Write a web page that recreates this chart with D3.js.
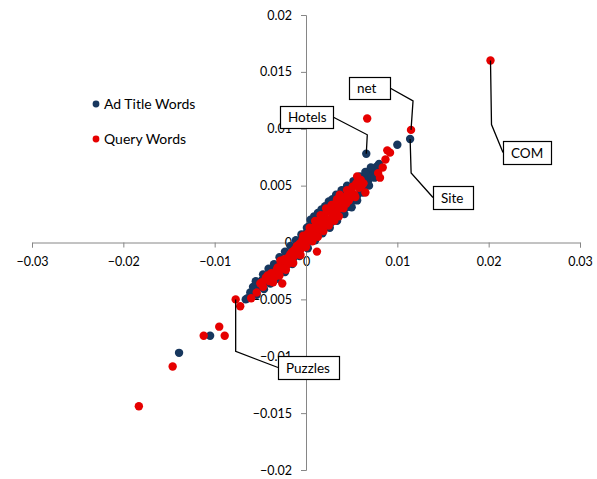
<!DOCTYPE html>
<html>
<head>
<meta charset="utf-8">
<script src="https://cdn.jsdelivr.net/npm/d3@7"></script>
<style>
  body { margin: 0; background: #fff; }
  svg text { font-family: Lato, "Liberation Sans", sans-serif; fill: #000; }
  .axis path, .axis line { stroke: #868686; }
</style>
</head>
<body>
<div id="chart"></div>
<script>

var width = 597, height = 479;

var xTicks = [-0.03, -0.02, -0.01, 0, 0.01, 0.02, 0.03];
var yTicks = [-0.02, -0.015, -0.01, -0.005, 0, 0.005, 0.01, 0.015, 0.02];

var seriesNames = ['Ad Title Words', 'Query Words'];
var seriesColors = ['#17375e', '#e60000'];

// [x, y]
var adTitleWords = [
  [-0.0139,-0.0097],[-0.0105,-0.0082],[-0.0066,-0.0050],[-0.0064,-0.0049],[-0.0061,-0.0044],
  [-0.0058,-0.0039],[-0.0056,-0.0041],[-0.0052,-0.0036],[-0.0050,-0.0039],[-0.0048,-0.0033],
  [-0.0046,-0.0036],[-0.0044,-0.0030],[-0.0042,-0.0034],[-0.0040,-0.0028],[-0.0038,-0.0031],
  [-0.0036,-0.0025],[-0.0034,-0.0029],[-0.0032,-0.0022],[-0.0030,-0.0027],[-0.0028,-0.0019],
  [-0.0026,-0.0024],[-0.0024,-0.0016],[-0.0022,-0.0021],[-0.0020,-0.0012],[-0.0018,-0.0017],
  [-0.0016,-0.0009],[-0.0014,-0.0014],[-0.0012,-0.0005],[-0.0010,-0.0010],[-0.0008,-0.0001],
  [-0.0006,-0.0006],[-0.0004,0.0003],[-0.0002,-0.0002],[0.0000,0.0008],[0.0001,0.0001],
  [0.0003,0.0014],[0.0004,0.0004],[0.0006,0.0018],[0.0008,0.0006],[0.0010,0.0020],
  [0.0012,0.0008],[0.0014,0.0023],[0.0016,0.0010],[0.0018,0.0026],[0.0020,0.0013],
  [0.0022,0.0029],[0.0024,0.0015],[0.0026,0.0034],[0.0028,0.0018],[0.0030,0.0035],
  [0.0032,0.0021],[0.0034,0.0039],[0.0036,0.0025],[0.0038,0.0042],[0.0040,0.0028],
  [0.0042,0.0046],[0.0044,0.0031],[0.0046,0.0048],[0.0048,0.0034],[0.0050,0.0049],
  [0.0051,0.0037],[0.0054,0.0052],[0.0056,0.0041],[0.0058,0.0054],[0.0060,0.0045],
  [0.0062,0.0057],[0.0064,0.0049],[0.0066,0.0060],[0.0068,0.0054],[0.0070,0.0063],
  [0.0072,0.0058],[0.0074,0.0065],[0.0076,0.0062],[0.0078,0.0067],[0.0080,0.0069],
  [-0.0055,-0.0034],[-0.0047,-0.0028],[-0.0041,-0.0023],[-0.0035,-0.0019],[-0.0029,-0.0013],
  [-0.0023,-0.0008],[-0.0017,-0.0003],[-0.0011,0.0002],[-0.0005,0.0007],[0.0001,0.0013],
  [0.0005,0.0020],[0.0009,0.0023],[0.0013,0.0026],[0.0017,0.0029],[0.0021,0.0032],
  [0.0025,0.0036],[0.0029,0.0038],[0.0033,0.0042],[0.0039,0.0046],[0.0045,0.0050],
  [0.0052,0.0054],[0.0059,0.0058],[0.0065,0.0062],[0.0071,0.0066],
  [-0.0054,-0.0046],[-0.0046,-0.0041],[-0.0039,-0.0036],[-0.0031,-0.0032],[-0.0023,-0.0026],
  [-0.0015,-0.0019],[-0.0007,-0.0012],[0.0002,-0.0005],[0.0010,0.0002],[0.0018,0.0008],
  [0.0026,0.0013],[0.0034,0.0019],[0.0042,0.0025],[0.0050,0.0031],[0.0056,0.0037],
  [0.0062,0.0044],[0.0069,0.0050],[0.0075,0.0057],
  [0.0066,0.0078],[0.0100,0.0086],[0.0114,0.0091]
];

var queryWords = [
  [-0.0183,-0.0144],[-0.0146,-0.0109],[-0.0112,-0.0082],[-0.0089,-0.0082],[-0.0095,-0.0074],
  [-0.0077,-0.0050],[-0.0072,-0.0056],[-0.0060,-0.0049],[-0.0054,-0.0044],[-0.0050,-0.0036],
  [-0.0047,-0.0039],[-0.0044,-0.0031],[-0.0040,-0.0034],[-0.0036,-0.0035],[-0.0026,-0.0036],
  [-0.0038,-0.0027],[-0.0034,-0.0030],[-0.0032,-0.0024],[-0.0030,-0.0026],[-0.0028,-0.0016],
  [-0.0027,-0.0021],[-0.0025,-0.0023],[-0.0023,-0.0018],[-0.0021,-0.0014],[-0.0020,-0.0019],
  [-0.0018,-0.0012],[-0.0016,-0.0015],[-0.0015,-0.0008],[-0.0013,-0.0012],[-0.0012,-0.0006],
  [-0.0010,-0.0003],[-0.0009,-0.0008],[-0.0007,-0.0001],[-0.0005,-0.0005],[-0.0004,0.0002],
  [-0.0002,-0.0002],[-0.0001,0.0005],[0.0001,0.0001],[0.0002,0.0008],[0.0003,0.0003],
  [0.0005,0.0011],[0.0006,0.0005],[0.0008,0.0013],[0.0009,0.0008],[0.0011,0.0016],
  [0.0012,-0.0008],[0.0012,0.0011],[0.0014,0.0019],[0.0015,0.0012],[0.0017,0.0022],
  [0.0018,0.0014],[0.0020,0.0024],[0.0021,0.0017],[0.0023,0.0027],[0.0024,0.0019],
  [0.0026,0.0029],[0.0027,0.0021],[0.0029,0.0031],[0.0030,0.0024],[0.0032,0.0034],
  [0.0033,0.0027],[0.0035,0.0035],[0.0037,0.0042],[0.0037,0.0030],[0.0040,0.0036],
  [0.0042,0.0039],[0.0044,0.0034],[0.0046,0.0043],[0.0048,0.0040],[0.0050,0.0045],
  [0.0053,0.0042],[0.0056,0.0058],[0.0055,0.0052],[0.0058,0.0048],[0.0060,0.0055],
  [0.0065,0.0044],[0.0063,0.0052],[0.0067,0.0109],[0.0079,0.0061],[0.0081,0.0057],
  [0.0084,0.0066],[0.0087,0.0073],[0.0089,0.0081],[0.0092,0.0079],[0.0115,0.0099],
  [-0.0048,-0.0035],[-0.0042,-0.0029],[-0.0037,-0.0032],[-0.0031,-0.0022],[-0.0029,-0.0029],
  [-0.0024,-0.0015],[-0.0022,-0.0024],[-0.0017,-0.0010],[-0.0014,-0.0018],[-0.0008,-0.0005],
  [-0.0006,-0.0011],[-0.0003,0.0006],[0.0000,-0.0004],[0.0004,0.0013],[0.0007,0.0001],
  [0.0010,0.0019],[0.0013,0.0005],[0.0016,0.0024],[0.0019,0.0010],[0.0022,0.0030],
  [0.0025,0.0015],[0.0028,0.0033],[0.0031,0.0019],[0.0034,0.0038],[0.0036,0.0023],
  [0.0039,0.0040],[0.0041,0.0030],[0.0045,0.0046],[0.0047,0.0037],[0.0051,0.0049],
  [0.0054,0.0040],[0.0057,0.0054],[0.0061,0.0050],
  [0.0202,0.0160]
];

// callouts: point they point at, elbow offset from the point, box (left, top, w, h) in px
var callouts = [
  { label: 'net',     pt: [0.0115, 0.0099],   elbow: [2, -29],  box: [349, 77, 41, 22],  side: 'right' },
  { label: 'Hotels',  pt: [0.0066, 0.0078],   elbow: [1, -19],  box: [280, 106, 53, 22], side: 'right' },
  { label: 'Site',    pt: [0.0114, 0.0091],   elbow: [1, 34],   box: [433, 186, 40, 23], side: 'left' },
  { label: 'COM',     pt: [0.0202, 0.0160],   elbow: [1, 64],   box: [503, 141, 48, 23], side: 'left' },
  { label: 'Puzzles', pt: [-0.0077, -0.0050], elbow: [0, 52],   box: [278, 356, 61, 23], side: 'left' }
];

var x = d3.scaleLinear().domain([-0.03, 0.03]).range([32, 580]);
var y = d3.scaleLinear().domain([-0.02, 0.02]).range([470, 15]);

var svg = d3.select('#chart')
  .append('svg')
  .attr('width', width)
  .attr('height', height);

var fmt = function(d) { return d === 0 ? '0' : d3.format('')(+d.toFixed(3)); };

// x axis along y = 0
var xAxis = svg.append('g')
  .attr('class', 'axis')
  .attr('transform', 'translate(0,' + y(0) + ')')
  .call(d3.axisBottom(x).tickValues(xTicks).tickSize(5).tickPadding(10).tickFormat(fmt));

// y axis along x = 0
var yAxis = svg.append('g')
  .attr('class', 'axis')
  .attr('transform', 'translate(' + x(0) + ',0)')
  .call(d3.axisLeft(y).tickValues(yTicks).tickSize(5).tickPadding(9).tickFormat(fmt));

svg.selectAll('.axis .domain').attr('stroke', '#868686');
xAxis.selectAll('text').attr('font-size', 12.5).attr('fill', '#000');
yAxis.selectAll('text').attr('font-size', 12.5).attr('fill', '#000');

// points: blue first, red on top
var series = [adTitleWords, queryWords];
series.forEach(function(pts, i) {
  svg.append('g')
    .selectAll('circle')
    .data(pts)
    .enter().append('circle')
    .attr('cx', function(d) { return x(d[0]); })
    .attr('cy', function(d) { return y(d[1]); })
    .attr('r', 4.2)
    .attr('fill', seriesColors[i]);
});

// callouts
var co = svg.append('g');
callouts.forEach(function(c) {
  var px = x(c.pt[0]), py = y(c.pt[1]);
  var ex = px + c.elbow[0], ey = py + c.elbow[1];
  var b = c.box;
  var bx = c.side === 'right' ? b[0] + b[2] : b[0];
  var by = b[1] + b[3] / 2;
  co.append('path')
    .attr('d', 'M' + px + ',' + py + 'L' + ex + ',' + ey + 'L' + bx + ',' + by)
    .attr('fill', 'none')
    .attr('stroke', '#000')
    .attr('stroke-width', 1.3);
  co.append('rect')
    .attr('x', b[0] + 0.5).attr('y', b[1] + 0.5)
    .attr('width', b[2]).attr('height', b[3])
    .attr('fill', '#fff')
    .attr('stroke', '#000')
    .attr('stroke-width', 1.2);
  co.append('text')
    .attr('x', b[0] + 8)
    .attr('y', b[1] + b[3] / 2 + 5)
    .attr('font-size', 13.5)
    .text(c.label);
});

// legend
var legend = svg.append('g');
seriesNames.forEach(function(name, i) {
  var ly = 104 + i * 35;
  legend.append('circle')
    .attr('cx', 96).attr('cy', ly)
    .attr('r', 3.4)
    .attr('fill', seriesColors[i]);
  legend.append('text')
    .attr('x', 104).attr('y', ly + 5)
    .attr('font-size', 14)
    .text(name);
});

</script>
</body>
</html>
